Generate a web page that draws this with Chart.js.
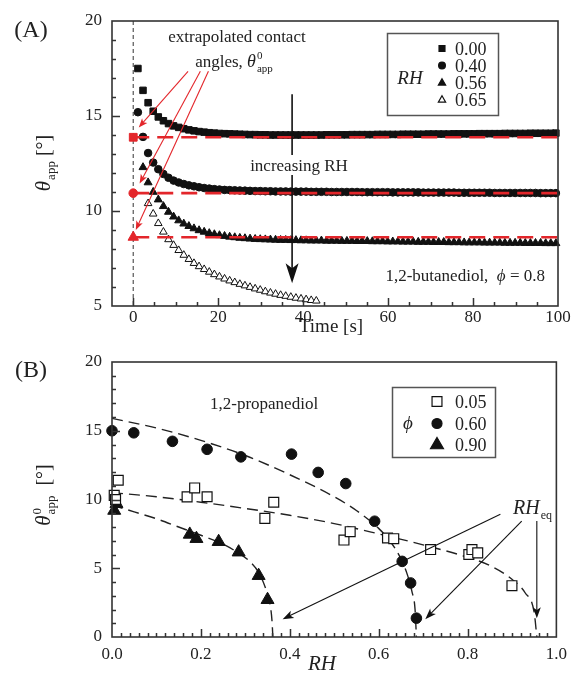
<!DOCTYPE html>
<html>
<head>
<meta charset="utf-8">
<script src="https://cdn.jsdelivr.net/npm/chart.js@4.4.1/dist/chart.umd.min.js"></script>
<style>
  body { margin: 0; background: #fff; }
  #wrap { position: relative; width: 574px; height: 674px; }
  canvas { position: absolute; left: 0; }
</style>
</head>
<body>
<div id="wrap">
  <canvas id="chartA" width="574" height="337" style="top:0"></canvas>
  <canvas id="chartB" width="574" height="337" style="top:337px"></canvas>
</div>
<script>
// ---- panel (A): apparent contact angle vs time, 1,2-butanediol ----
const timeA = [
  1.1, 2.3, 3.5, 4.7, 5.9, 7.1, 8.3, 9.5, 10.7, 11.9,
  13.1, 14.3, 15.5, 16.7, 17.9, 19.1, 20.3, 21.5, 22.7, 23.9,
  25.1, 26.3, 27.5, 28.7, 29.9, 31.1, 32.3, 33.5, 34.7, 35.9,
  37.1, 38.3, 39.5, 40.7, 41.9, 43.1, 44.3, 45.5, 46.7, 47.9,
  49.1, 50.3, 51.5, 52.7, 53.9, 55.1, 56.3, 57.5, 58.7, 59.9,
  61.1, 62.3, 63.5, 64.7, 65.9, 67.1, 68.3, 69.5, 70.7, 71.9,
  73.1, 74.3, 75.5, 76.7, 77.9, 79.1, 80.3, 81.5, 82.7, 83.9,
  85.1, 86.3, 87.5, 88.7, 89.9, 91.1, 92.3, 93.5, 94.7, 95.9,
  97.1, 98.3, 99.5
];
const thetaRH000 = [
  17.5, 16.35, 15.7, 15.25, 14.95, 14.75, 14.6, 14.48, 14.4, 14.33,
  14.27, 14.22, 14.18, 14.15, 14.12, 14.1, 14.08, 14.07, 14.06, 14.05,
  14.04, 14.03, 14.02, 14.02, 14.01, 14.01, 14.0, 14.0, 14.0, 14.0,
  14.0, 14.0, 14.0, 14.0, 14.0, 14.0, 14.0, 14.01, 14.01, 14.01,
  14.01, 14.01, 14.02, 14.02, 14.02, 14.02, 14.02, 14.03, 14.03, 14.03,
  14.03, 14.03, 14.04, 14.04, 14.04, 14.04, 14.04, 14.05, 14.05, 14.05,
  14.05, 14.05, 14.06, 14.06, 14.06, 14.06, 14.06, 14.07, 14.07, 14.07,
  14.07, 14.07, 14.08, 14.08, 14.08, 14.08, 14.08, 14.09, 14.09, 14.09,
  14.09, 14.09, 14.1
];
const thetaRH040 = [
  15.2, 13.9, 13.05, 12.55, 12.2, 11.95, 11.75, 11.6, 11.5, 11.42,
  11.35, 11.3, 11.25, 11.21, 11.18, 11.15, 11.13, 11.11, 11.1, 11.09,
  11.08, 11.07, 11.06, 11.05, 11.05, 11.04, 11.04, 11.03, 11.03, 11.03,
  11.02, 11.02, 11.02, 11.02, 11.01, 11.01, 11.01, 11.01, 11.0, 11.0,
  11.0, 11.0, 11.0, 11.0, 10.99, 10.99, 10.99, 10.99, 10.99, 10.99,
  10.98, 10.98, 10.98, 10.98, 10.98, 10.98, 10.97, 10.97, 10.97, 10.97,
  10.97, 10.97, 10.97, 10.96, 10.96, 10.96, 10.96, 10.96, 10.96, 10.96,
  10.95, 10.95, 10.95, 10.95, 10.95, 10.95, 10.95, 10.95, 10.95, 10.94,
  10.94, 10.94, 10.94
];
const thetaRH056 = [
  null, 12.3, 11.5, 11.0, 10.6, 10.25, 9.95, 9.7, 9.5, 9.33,
  9.2, 9.08, 8.98, 8.9, 8.83, 8.77, 8.72, 8.68, 8.64, 8.61,
  8.58, 8.56, 8.54, 8.52, 8.51, 8.5, 8.49, 8.48, 8.47, 8.47,
  8.46, 8.46, 8.45, 8.45, 8.44, 8.44, 8.44, 8.43, 8.43, 8.43,
  8.42, 8.42, 8.42, 8.41, 8.41, 8.41, 8.4, 8.4, 8.4, 8.39,
  8.39, 8.39, 8.38, 8.38, 8.38, 8.37, 8.37, 8.37, 8.36, 8.36,
  8.36, 8.35, 8.35, 8.35, 8.34, 8.34, 8.34, 8.34, 8.33, 8.33,
  8.33, 8.33, 8.32, 8.32, 8.32, 8.32, 8.31, 8.31, 8.31, 8.31,
  8.3, 8.3, 8.3
];
const thetaRH065 = [
  null, null, 10.4, 9.85, 9.35, 8.9, 8.5, 8.2, 7.93, 7.68,
  7.46, 7.25, 7.08, 6.93, 6.79, 6.66, 6.54, 6.43, 6.33, 6.24,
  6.15, 6.07, 5.99, 5.91, 5.84, 5.76, 5.69, 5.63, 5.57, 5.52,
  5.47, 5.42, 5.38, 5.34, 5.3, 5.27
];
const rhLabels = ['0.00', '0.40', '0.56', '0.65'];
const extrapolated = [13.88, 10.94, 8.62];
const timeTicks = [0, 20, 40, 60, 80, 100];
const thetaTicksA = [5, 10, 15, 20];

// ---- panel (B): extrapolated angle vs RH, 1,2-propanediol ----
const rhPhi005 = [0.014, 0.005, 0.008, 0.169, 0.186, 0.214, 0.344, 0.364, 0.522, 0.536, 0.62, 0.634, 0.717, 0.803, 0.81, 0.823, 0.9];
const thetaPhi005 = [11.4, 10.3, 10.0, 10.19, 10.84, 10.2, 8.63, 9.8, 7.05, 7.66, 7.2, 7.15, 6.36, 6.0, 6.36, 6.12, 3.73];
const rhPhi060 = [0.0, 0.049, 0.136, 0.214, 0.29, 0.404, 0.464, 0.526, 0.591, 0.653, 0.672, 0.685];
const thetaPhi060 = [15.0, 14.85, 14.23, 13.65, 13.1, 13.3, 11.97, 11.16, 8.42, 5.5, 3.93, 1.37];
const rhPhi090 = [0.01, 0.005, 0.175, 0.19, 0.24, 0.285, 0.33, 0.35];
const thetaPhi090 = [9.7, 9.2, 7.46, 7.15, 6.93, 6.17, 4.46, 2.71];

const fitRH005 = [0, 0.1, 0.2, 0.3, 0.4, 0.5, 0.6, 0.7, 0.8, 0.85, 0.9, 0.93, 0.95, 0.956];
const fitTheta005 = [10.5, 10.2, 9.8, 9.35, 8.85, 8.25, 7.5, 6.7, 5.8, 5.2, 4.2, 3.2, 1.8, 0];
const fitRH060 = [0, 0.1, 0.2, 0.3, 0.4, 0.5, 0.55, 0.6, 0.625, 0.65, 0.665, 0.675, 0.682, 0.685];
const fitTheta060 = [15.9, 15.2, 14.3, 13.2, 11.8, 10.2, 9.2, 7.9, 7.0, 5.7, 4.5, 3.3, 2.0, 0];
const fitRH090 = [0, 0.05, 0.1, 0.15, 0.2, 0.25, 0.28, 0.31, 0.33, 0.345, 0.355, 0.36, 0.362];
const fitTheta090 = [9.6, 9.1, 8.6, 8.0, 7.4, 6.75, 6.2, 5.5, 4.7, 3.6, 2.5, 1.2, 0];

const phiLabels = ['0.05', '0.60', '0.90'];
const rhTicks = [0, 0.2, 0.4, 0.6, 0.8, 1.0];
const thetaTicksB = [0, 5, 10, 15, 20];

const SERIF = '"Liberation Serif", "Times New Roman", serif';
const RED = '#e3262b';
const INK = '#222';

function fnt(size, italic) {
    return (italic ? 'italic ' : '') + size + 'px ' + SERIF;
}

function pts(xs, ys) {
    return ys.map((y, i) => ({ x: xs[i], y: y }));
}

// text with italic parts and stacked super/subscripts
function richWidth(ctx, parts) {
    let w = 0;
    parts.forEach(p => {
        ctx.font = fnt(p.size, p.italic);
        w += ctx.measureText(p.t).width;
        if (p.sup || p.sub) {
            ctx.font = fnt(Math.round(p.size * 0.62), false);
            w += Math.max(p.sup ? ctx.measureText(p.sup).width : 0, p.sub ? ctx.measureText(p.sub).width : 0) + 1;
        }
    });
    return w;
}

function drawRich(ctx, parts, x, y, align) {
    const w = richWidth(ctx, parts);
    let cx = align === 'center' ? x - w / 2 : (align === 'right' ? x - w : x);
    ctx.textAlign = 'left';
    ctx.textBaseline = 'alphabetic';
    parts.forEach(p => {
        ctx.font = fnt(p.size, p.italic);
        ctx.fillText(p.t, cx, y);
        cx += ctx.measureText(p.t).width;
        if (p.sup || p.sub) {
            ctx.font = fnt(Math.round(p.size * 0.62), false);
            let sw = 0;
            if (p.sup) { ctx.fillText(p.sup, cx + 1, y - p.size * 0.45); sw = ctx.measureText(p.sup).width; }
            if (p.sub) { ctx.fillText(p.sub, cx + 1, y + p.size * 0.25); sw = Math.max(sw, ctx.measureText(p.sub).width); }
            cx += sw + 1;
        }
    });
}

function arrow(ctx, x1, y1, x2, y2, len, half, color, lw) {
    const a = Math.atan2(y2 - y1, x2 - x1);
    ctx.save();
    ctx.strokeStyle = color;
    ctx.fillStyle = color;
    ctx.lineWidth = lw;
    ctx.beginPath();
    ctx.moveTo(x1, y1);
    ctx.lineTo(x2 - Math.cos(a) * len * 0.7, y2 - Math.sin(a) * len * 0.7);
    ctx.stroke();
    ctx.beginPath();
    ctx.moveTo(x2, y2);
    ctx.lineTo(x2 - Math.cos(a) * len + Math.sin(a) * half, y2 - Math.sin(a) * len - Math.cos(a) * half);
    ctx.lineTo(x2 - Math.cos(a) * len * 0.75, y2 - Math.sin(a) * len * 0.75);
    ctx.lineTo(x2 - Math.cos(a) * len - Math.sin(a) * half, y2 - Math.sin(a) * len + Math.cos(a) * half);
    ctx.closePath();
    ctx.fill();
    ctx.restore();
}

function legendPoint(ctx, style, r, fill, x, y) {
    ctx.fillStyle = fill;
    ctx.strokeStyle = '#111';
    ctx.lineWidth = 1.2;
    Chart.helpers.drawPoint(ctx, { pointStyle: style, radius: r, rotation: 0, borderWidth: 1.2 }, x, y);
}

// box frame plus inward major/minor ticks on the bottom and left axes
const frameTicks = {
    id: 'frameTicks',
    afterDraw(chart, args, opts) {
        const { ctx, chartArea: a, scales: { x, y } } = chart;
        ctx.save();
        ctx.strokeStyle = '#333';
        ctx.lineWidth = 1.5;
        ctx.beginPath();
        const eps = 1e-9;
        const onStep = (v, step) => Math.abs(v / step - Math.round(v / step)) < 1e-6;
        for (let v = Math.ceil(x.min / opts.xMinor - eps) * opts.xMinor; v < x.max - eps; v += opts.xMinor) {
            if (v <= x.min + eps) continue;
            const px = Math.round(x.getPixelForValue(v)) + 0.5;
            const len = onStep(v, opts.xMajor) ? 8 : 4;
            ctx.moveTo(px, a.bottom);
            ctx.lineTo(px, a.bottom - len);
        }
        for (let v = Math.ceil(y.min / opts.yMinor - eps) * opts.yMinor; v < y.max - eps; v += opts.yMinor) {
            if (v <= y.min + eps) continue;
            const py = Math.round(y.getPixelForValue(v)) + 0.5;
            const len = onStep(v, opts.yMajor) ? 8 : 4;
            ctx.moveTo(a.left, py);
            ctx.lineTo(a.left + len, py);
        }
        ctx.stroke();
        ctx.lineWidth = 1.6;
        ctx.strokeRect(a.left, a.top, a.right - a.left, a.bottom - a.top);
        ctx.restore();
    }
};

// panel A: dashed t=0 line below the data, annotations above it
const annotateA = {
    id: 'annotateA',
    beforeDatasetsDraw(chart) {
        const { ctx, chartArea: a, scales: { x } } = chart;
        const px = x.getPixelForValue(0);
        ctx.save();
        ctx.strokeStyle = '#555';
        ctx.lineWidth = 1.2;
        ctx.setLineDash([4, 3]);
        ctx.beginPath();
        ctx.moveTo(px, a.top);
        ctx.lineTo(px, a.bottom);
        ctx.stroke();
        ctx.restore();
    },
    afterDraw(chart) {
        const { ctx, scales: { x, y } } = chart;
        ctx.save();
        ctx.fillStyle = INK;

        drawRich(ctx, [{ t: 'extrapolated contact', size: 17 }], 237, 42, 'center');
        drawRich(ctx, [{ t: 'angles, ', size: 17 }, { t: 'θ', size: 18, italic: true, sup: '0', sub: 'app' }], 234, 67, 'center');

        const starts = [[12.9, 17.35], [15.8, 17.35], [17.7, 17.35]];
        const ends = [[1.3, 14.4], [1.5, 11.45], [0.6, 9.0]];
        starts.forEach((s, i) => {
            arrow(ctx, x.getPixelForValue(s[0]), y.getPixelForValue(s[1]),
                x.getPixelForValue(ends[i][0]), y.getPixelForValue(ends[i][1]), 9, 3.5, RED, 1.1);
        });

        const ax = x.getPixelForValue(37.4);
        arrow(ctx, ax, y.getPixelForValue(16.14), ax, y.getPixelForValue(6.2), 20, 6.5, '#111', 1.6);
        ctx.fillStyle = '#fff';
        ctx.fillRect(238, 155, 122, 20);
        ctx.fillStyle = INK;
        drawRich(ctx, [{ t: 'increasing RH', size: 17 }], 299, 171, 'center');

        drawRich(ctx, [{ t: '1,2-butanediol,  ', size: 17 }, { t: 'ϕ', size: 17, italic: true }, { t: ' = 0.8', size: 17 }], 545, 281, 'right');

        // legend
        ctx.strokeStyle = '#555';
        ctx.lineWidth = 1.5;
        ctx.strokeRect(387.5, 33.5, 111, 82);
        drawRich(ctx, [{ t: 'RH', size: 19, italic: true }], 410, 84, 'center');
        const styles = [['rect', 4.2, '#111'], ['circle', 3.4, '#111'], ['triangle', 4.2, '#111'], ['triangle', 4.2, '#fff']];
        const rows = [48.5, 65.5, 83, 100];
        rhLabels.forEach((lab, i) => {
            legendPoint(ctx, styles[i][0], styles[i][1], styles[i][2], 442, rows[i]);
            ctx.fillStyle = INK;
            drawRich(ctx, [{ t: lab, size: 18 }], 455, rows[i] + 6, 'left');
        });

        // axis titles and panel label
        drawRich(ctx, [{ t: 'Time [s]', size: 19 }], 331, 332, 'center');
        ctx.save();
        ctx.translate(50, 163);
        ctx.rotate(-Math.PI / 2);
        drawRich(ctx, [{ t: 'θ', size: 21, italic: true, sub: 'app' }, { t: ' [°]', size: 20 }], 0, 0, 'center');
        ctx.restore();
        drawRich(ctx, [{ t: '(A)', size: 24 }], 31, 37, 'center');
        ctx.restore();
    }
};

// panel B annotations
const annotateB = {
    id: 'annotateB',
    afterDraw(chart) {
        const { ctx, scales: { x, y } } = chart;
        ctx.save();
        ctx.fillStyle = INK;
        drawRich(ctx, [{ t: '1,2-propanediol', size: 17 }], 210, 72, 'left');

        drawRich(ctx, [{ t: 'RH', size: 20, italic: true, sub: 'eq' }], 513, 177, 'left');
        const from = [[0.874, 8.93], [0.922, 8.43], [0.956, 8.43]];
        const to = [[0.384, 1.3], [0.705, 1.3], [0.956, 1.37]];
        from.forEach((f, i) => {
            arrow(ctx, x.getPixelForValue(f[0]), y.getPixelForValue(f[1]),
                x.getPixelForValue(to[i][0]), y.getPixelForValue(to[i][1]), 11, 4, '#111', 1.1);
        });

        // legend
        ctx.strokeStyle = '#555';
        ctx.lineWidth = 1.5;
        ctx.strokeRect(392.5, 50.5, 103, 70);
        ctx.fillStyle = INK;
        drawRich(ctx, [{ t: 'ϕ', size: 19, italic: true }], 408, 92, 'center');
        const styles = [['rect', 7, '#fff'], ['circle', 5, '#111'], ['triangle', 7.5, '#111']];
        const rows = [64.5, 86.5, 108];
        phiLabels.forEach((lab, i) => {
            legendPoint(ctx, styles[i][0], styles[i][1], styles[i][2], 437, rows[i]);
            ctx.fillStyle = INK;
            drawRich(ctx, [{ t: lab, size: 18 }], 455, rows[i] + 6, 'left');
        });

        drawRich(ctx, [{ t: 'RH', size: 21, italic: true }], 322, 333, 'center');
        ctx.save();
        ctx.translate(50, 158);
        ctx.rotate(-Math.PI / 2);
        drawRich(ctx, [{ t: 'θ', size: 21, italic: true, sup: '0', sub: 'app' }, { t: '  [°]', size: 20 }], 0, 0, 'center');
        ctx.restore();
        drawRich(ctx, [{ t: '(B)', size: 24 }], 31, 40, 'center');
        ctx.restore();
    }
};

function axis(min, max, tickList, fmt, pad, fit) {
    return {
        type: 'linear',
        min: min,
        max: max,
        grid: { display: false, drawTicks: false },
        border: { display: false },
        ticks: { padding: pad, color: INK, font: { family: SERIF, size: 17 }, maxRotation: 0, autoSkip: false, callback: fmt },
        afterBuildTicks: s => { s.ticks = tickList.map(v => ({ value: v })); },
        afterFit: fit
    };
}

function scatterSet(data, style, radius, fill, extra) {
    return Object.assign({
        data: data,
        showLine: false,
        pointStyle: style,
        pointRadius: radius,
        pointBackgroundColor: fill,
        pointBorderColor: '#111',
        pointBorderWidth: 1,
        clip: false
    }, extra || {});
}

function redLine(v) {
    return {
        data: [{ x: 0, y: v }, { x: 100, y: v }],
        showLine: true,
        pointRadius: 0,
        borderColor: RED,
        borderWidth: 2.6,
        borderDash: [16, 8]
    };
}

function fitLine(xs, ys) {
    return {
        data: pts(xs, ys),
        showLine: true,
        pointRadius: 0,
        borderColor: '#222',
        borderWidth: 1.4,
        borderDash: [11, 6],
        cubicInterpolationMode: 'monotone'
    };
}

function renderCharts() {
    new Chart(document.getElementById('chartA').getContext('2d'), {
        type: 'scatter',
        data: {
            datasets: [
                redLine(extrapolated[0]),
                redLine(extrapolated[1]),
                redLine(extrapolated[2]),
                scatterSet(extrapolated.map(v => ({ x: 0, y: v })), ['rect', 'circle', 'triangle'], [5.5, 4.3, 6], RED, { pointBorderColor: RED }),
                scatterSet(pts(timeA, thetaRH000), 'rect', 4.6, '#111'),
                scatterSet(pts(timeA, thetaRH040), 'circle', 3.8, '#111'),
                scatterSet(pts(timeA, thetaRH056), 'triangle', 4.6, '#111'),
                scatterSet(pts(timeA, thetaRH065), 'triangle', 4.4, '#fff')
            ]
        },
        options: {
            responsive: false,
            animation: false,
            events: [],
            layout: { padding: { left: 0, right: 16, top: 21, bottom: 0 } },
            scales: {
                x: axis(-5, 100, timeTicks, v => String(v), 1, s => { s.height = 31; }),
                y: axis(5, 20, thetaTicksA, v => String(v), 10, s => { s.width = 112; })
            },
            plugins: {
                legend: { display: false },
                tooltip: { enabled: false },
                frameTicks: { xMajor: 20, xMinor: 5, yMajor: 5, yMinor: 1 }
            }
        },
        plugins: [frameTicks, annotateA]
    });

    new Chart(document.getElementById('chartB').getContext('2d'), {
        type: 'scatter',
        data: {
            datasets: [
                scatterSet(pts(rhPhi005, thetaPhi005), 'rect', 7, '#fff', { pointBorderWidth: 1.2 }),
                scatterSet(pts(rhPhi060, thetaPhi060), 'circle', 5.3, '#111'),
                scatterSet(pts(rhPhi090, thetaPhi090), 'triangle', 7.5, '#111'),
                fitLine(fitRH005, fitTheta005),
                fitLine(fitRH060, fitTheta060),
                fitLine(fitRH090, fitTheta090)
            ]
        },
        options: {
            responsive: false,
            animation: false,
            events: [],
            layout: { padding: { left: 0, right: 16, top: 25, bottom: 0 } },
            scales: {
                x: axis(0, 1, rhTicks, v => v.toFixed(1), 7, s => { s.height = 37; }),
                y: axis(0, 20, thetaTicksB, v => String(v), 10, s => { s.width = 112; })
            },
            plugins: {
                legend: { display: false },
                tooltip: { enabled: false },
                frameTicks: { xMajor: 0.2, xMinor: 0.02, yMajor: 5, yMinor: 1 }
            }
        },
        plugins: [frameTicks, annotateB]
    });
}

renderCharts();
</script>
</body>
</html>
